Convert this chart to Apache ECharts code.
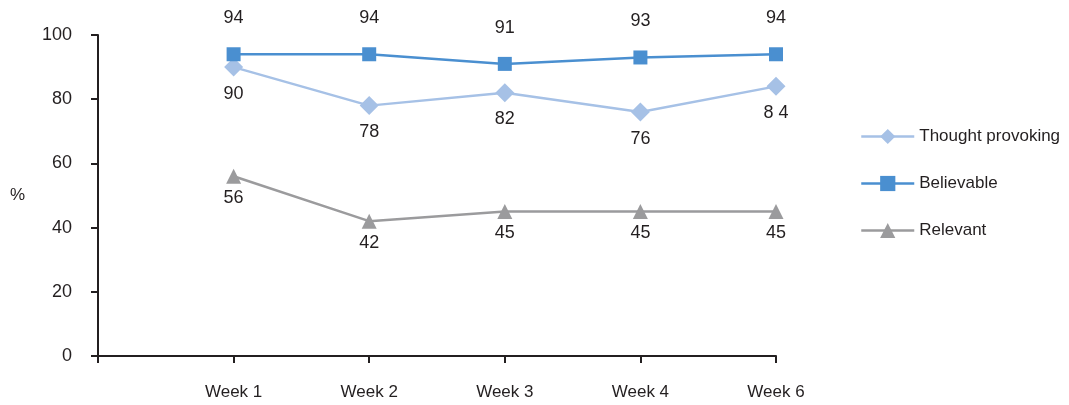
<!DOCTYPE html>
<html>
<head>
<meta charset="utf-8">
<script src="https://cdn.jsdelivr.net/npm/echarts@6/dist/echarts.min.js"></script>
<style>
  html, body { margin: 0; padding: 0; background: #fff; }
  #chart { width: 1069px; height: 405px; }
</style>
</head>
<body>
<div id="chart"></div>
<script>
// Categories: a blank slot at the origin, then the survey weeks
const categories = ['', 'Week 1', 'Week 2', 'Week 3', 'Week 4', 'Week 6'];
const thoughtProvoking = [null, 90, 78, 82, 76, 84];
const thoughtProvokingLabels = ['', '90', '78', '82', '76', '8 4'];
const believable = [null, 94, 94, 91, 93, 94];
const relevant = [null, 56, 42, 45, 45, 45];
const yTicks = [0, 20, 40, 60, 80, 100];

const FONT = "'Liberation Sans Narrow', 'Arial Narrow', 'Liberation Sans', sans-serif";
const INK = '#231f20';

const chart = echarts.init(document.getElementById('chart'), null, { renderer: 'canvas' });

const labelStyle = { fontFamily: FONT, fontSize: 18, color: INK };

chart.setOption({
  animation: false,
  textStyle: { fontFamily: FONT, color: INK },
  grid: { left: 98, right: 293, top: 35, bottom: 49, containLabel: false },
  legend: {
    orient: 'vertical',
    left: 855,
    top: 123,
    itemWidth: 53,
    itemHeight: 19,
    itemGap: 30,
    lineStyle: { width: 2.5 },
    textStyle: { fontFamily: FONT, fontSize: 17, color: INK },
    data: ['Thought provoking', 'Believable', 'Relevant']
  },
  xAxis: {
    type: 'category',
    data: categories,
    boundaryGap: false,
    axisLine: { lineStyle: { color: INK, width: 2 } },
    axisTick: { show: true, length: 7, lineStyle: { color: INK, width: 2 } },
    axisLabel: { fontFamily: FONT, fontSize: 17, color: INK, margin: 28, interval: 0 },
    splitLine: { show: false }
  },
  yAxis: {
    type: 'value',
    min: yTicks[0],
    max: yTicks[yTicks.length - 1],
    interval: yTicks[1] - yTicks[0],
    name: '%',
    nameLocation: 'middle',
    nameRotate: 0,
    nameGap: 73,
    nameTextStyle: { fontFamily: FONT, fontSize: 17, color: INK },
    axisLine: { show: true, lineStyle: { color: INK, width: 2 } },
    axisTick: { show: true, length: 7, lineStyle: { color: INK, width: 2 } },
    axisLabel: { fontFamily: FONT, fontSize: 18, color: INK, margin: 26 },
    splitLine: { show: false }
  },
  series: [
    {
      name: 'Thought provoking',
      type: 'line',
      data: thoughtProvoking,
      symbol: 'diamond',
      symbolSize: 19,
      itemStyle: { color: '#a6c1e6' },
      lineStyle: { color: '#a6c1e6', width: 2.5 },
      label: {
        show: true,
        position: 'bottom',
        distance: 8,
        formatter: p => thoughtProvokingLabels[p.dataIndex],
        ...labelStyle
      },
      z: 2
    },
    {
      name: 'Believable',
      type: 'line',
      data: believable,
      symbol: 'rect',
      symbolSize: 14,
      itemStyle: { color: '#4a8fd0' },
      lineStyle: { color: '#4a8fd0', width: 2.5 },
      label: { show: true, position: 'top', distance: 20, ...labelStyle },
      z: 3
    },
    {
      name: 'Relevant',
      type: 'line',
      data: relevant,
      symbol: 'triangle',
      symbolSize: 15,
      itemStyle: { color: '#9b9b9d' },
      lineStyle: { color: '#9b9b9d', width: 2.5 },
      label: { show: true, position: 'bottom', distance: 5, ...labelStyle },
      z: 2
    }
  ]
});
</script>
</body>
</html>
